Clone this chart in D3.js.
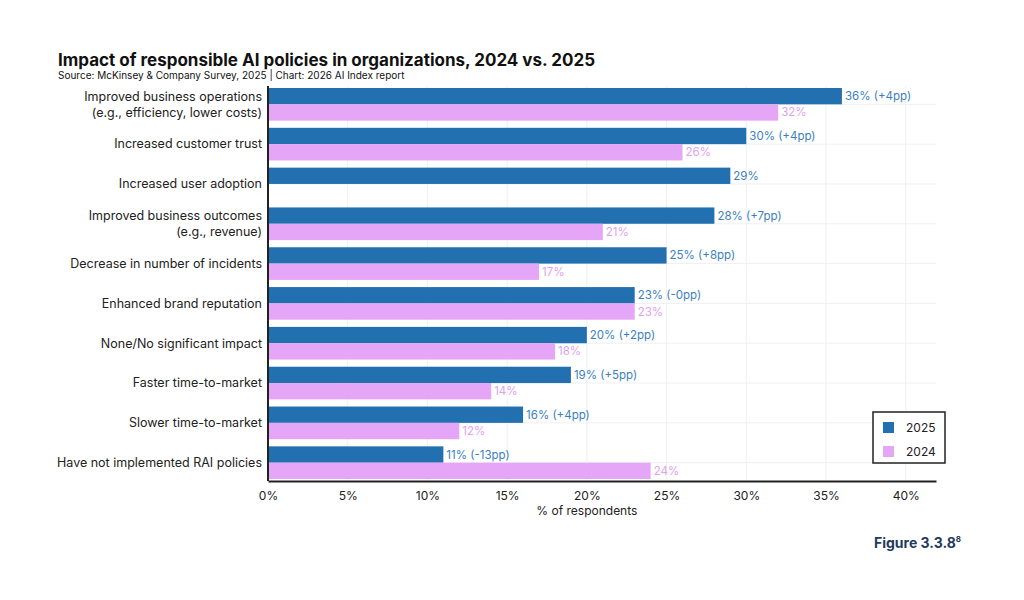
<!DOCTYPE html>
<html>
<head>
<meta charset="utf-8">
<script src="https://cdn.jsdelivr.net/npm/d3@7"></script>
<style>
  body { margin: 0; background: #fff; font-family: Inter, "Noto Sans", sans-serif; }
</style>
</head>
<body>
<div id="chart"></div>
<script>
const categories = [
  ["Improved business operations", "(e.g., efficiency, lower costs)"],
  ["Increased customer trust"],
  ["Increased user adoption"],
  ["Improved business outcomes", "(e.g., revenue)"],
  ["Decrease in number of incidents"],
  ["Enhanced brand reputation"],
  ["None/No significant impact"],
  ["Faster time-to-market"],
  ["Slower time-to-market"],
  ["Have not implemented RAI policies"]
];
const values2025 = [36, 30, 29, 28, 25, 23, 20, 19, 16, 11];
const values2024 = [32, 26, null, 21, 17, 23, 18, 14, 12, 24];
const diffLabels = ["+4pp", "+4pp", null, "+7pp", "+8pp", "-0pp", "+2pp", "+5pp", "+4pp", "-13pp"];
const xTicks = [0, 5, 10, 15, 20, 25, 30, 35, 40];

const W = 1024, H = 600;
const m = { left: 268, top: 86, right: 88, bottom: 119 };
const c2025 = "#2270b0", c2024 = "#e6a6f7";

const svg = d3.select("#chart").append("svg").attr("width", W).attr("height", H);

const x = d3.scaleLinear().domain([0, 41.9]).range([m.left, W - m.right]);
const y = d3.scaleBand().domain(d3.range(categories.length)).range([m.top, H - m.bottom]).paddingInner(0.18).paddingOuter(0.05);
const sub = d3.scaleBand().domain([0, 1]).range([0, y.bandwidth()]);

// grid
svg.append("g").selectAll("line").data(xTicks.slice(1)).join("line")
  .attr("x1", d => x(d)).attr("x2", d => x(d))
  .attr("y1", m.top).attr("y2", H - m.bottom)
  .attr("stroke", "#eef0f3");
svg.append("g").selectAll("line").data(d3.range(categories.length)).join("line")
  .attr("x1", m.left).attr("x2", W - m.right)
  .attr("y1", d => y(d) + y.bandwidth() / 2).attr("y2", d => y(d) + y.bandwidth() / 2)
  .attr("stroke", "#eef0f3");

const rows = svg.append("g").selectAll("g").data(categories).join("g")
  .attr("transform", (d, i) => `translate(0,${y(i)})`);

rows.append("rect")
  .attr("x", x(0)).attr("y", sub(0))
  .attr("width", (d, i) => x(values2025[i]) - x(0)).attr("height", sub.bandwidth())
  .attr("fill", c2025);
rows.append("text")
  .attr("x", (d, i) => x(values2025[i]) + 3).attr("y", sub(0) + sub.bandwidth() / 2)
  .attr("dy", "0.35em").attr("font-size", 11.5).attr("fill", "#3b7fc2")
  .text((d, i) => values2025[i] + "%" + (diffLabels[i] ? ` (${diffLabels[i]})` : ""));

rows.filter((d, i) => values2024[i] != null).append("rect")
  .attr("x", x(0)).attr("y", sub(1))
  .attr("width", (d, i) => x(values2024[categories.indexOf(d)]) - x(0)).attr("height", sub.bandwidth())
  .attr("fill", c2024);
rows.filter((d, i) => values2024[i] != null).append("text")
  .attr("x", d => x(values2024[categories.indexOf(d)]) + 3).attr("y", sub(1) + sub.bandwidth() / 2)
  .attr("dy", "0.35em").attr("font-size", 11.5).attr("fill", "#e2a0f3")
  .text(d => values2024[categories.indexOf(d)] + "%");

// category labels
rows.append("text")
  .attr("x", m.left - 6).attr("text-anchor", "end")
  .attr("font-size", 12.5).attr("fill", "#222")
  .selectAll("tspan").data(d => d).join("tspan")
  .attr("x", m.left - 6)
  .attr("y", (t, j, nodes) => y.bandwidth() / 2 + (j - (nodes.length - 1) / 2) * 16)
  .attr("dy", "0.35em")
  .text(t => t);

// axes
const xAxis = svg.append("g").attr("transform", `translate(0,${H - m.bottom})`)
  .call(d3.axisBottom(x).tickValues(xTicks).tickFormat(d => d + "%").tickSize(0).tickPadding(10));
xAxis.select(".domain").attr("stroke", "#222").attr("stroke-width", 2);
xAxis.selectAll("text").attr("font-size", 12).attr("fill", "#222").attr("font-family", "Inter, sans-serif");
svg.append("line").attr("x1", m.left).attr("x2", m.left)
  .attr("y1", m.top).attr("y2", H - m.bottom).attr("stroke", "#222").attr("stroke-width", 2);

svg.append("text").attr("x", x(20)).attr("y", H - m.bottom + 34)
  .attr("text-anchor", "middle").attr("font-size", 12).attr("fill", "#222").text("% of respondents");

// title
svg.append("text").attr("x", 58).attr("y", 66).attr("font-size", 17).attr("font-weight", 700)
  .attr("fill", "#111").text("Impact of responsible AI policies in organizations, 2024 vs. 2025");
svg.append("text").attr("x", 58).attr("y", 79).attr("font-size", 10).attr("fill", "#111")
  .text("Source: McKinsey & Company Survey, 2025 | Chart: 2026 AI Index report");

// legend
const lg = svg.append("g").attr("transform", "translate(873,412)");
lg.append("rect").attr("width", 72).attr("height", 51).attr("fill", "#fff").attr("stroke", "#222").attr("stroke-width", 1.5);
[["2025", c2025], ["2024", c2024]].forEach(([t, col], i) => {
  lg.append("rect").attr("x", 10).attr("y", 10 + i * 24).attr("width", 11).attr("height", 11).attr("fill", col);
  lg.append("text").attr("x", 33).attr("y", 16 + i * 24).attr("dy", "0.35em").attr("font-size", 12).attr("fill", "#222").text(t);
});

// figure label
const fig = svg.append("text").attr("x", 961).attr("y", 548).attr("text-anchor", "end")
  .attr("font-size", 14).attr("font-weight", 700).attr("fill", "#1f3a5f");
fig.append("tspan").text("Figure 3.3.8");
fig.append("tspan").attr("font-size", 8).attr("dy", -6).text("8");
</script>
</body>
</html>
